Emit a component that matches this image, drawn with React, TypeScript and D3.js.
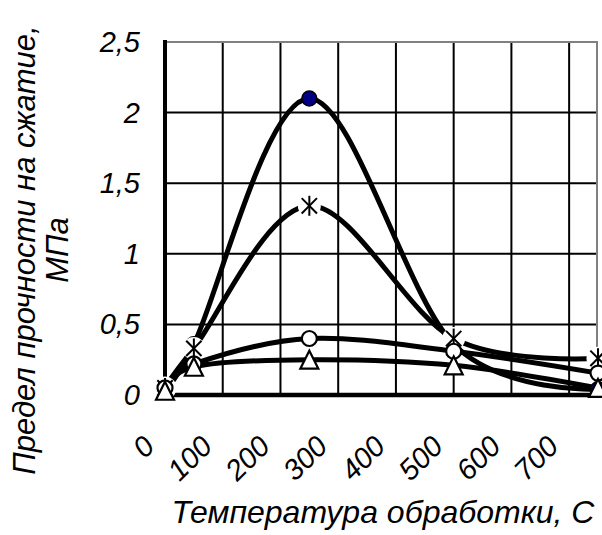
import React from "react";
import * as d3 from "d3";

const temps = [0, 50, 250, 500, 750];
const seriesNavy = [0.05, 0.36, 2.1, 0.36, 0.04];
const seriesStar = [0.05, 0.33, 1.34, 0.4, 0.26];
const seriesCircle = [0.05, 0.22, 0.4, 0.31, 0.155];
const seriesTriangle = [0.03, 0.2, 0.25, 0.21, 0.05];

const xTicks = [0, 100, 200, 300, 400, 500, 600, 700];
const xTickLabels = ["0", "100", "200", "300", "400", "500", "600", "700"];
const yTicks = [0, 0.5, 1, 1.5, 2, 2.5];
const yTickLabels = ["0", "0,5", "1", "1,5", "2", "2,5"];

const xTitle = "Температура обработки, С";
const yTitle1 = "Предел прочности на сжатие,";
const yTitle2 = "МПа";

const FONT = "'Liberation Sans', Arial, sans-serif";

export default function App() {
  const W = 602;
  const H = 535;
  const x = d3.scaleLinear().domain([0, 750]).range([165, 598]);
  const y = d3.scaleLinear().domain([0, 2.5]).range([395, 42]);

  const line = d3
    .line<number>()
    .x((_, i) => x(temps[i]))
    .y((d) => y(d))
    .curve(d3.curveCardinal.tension(0));

  const allSeries = [seriesNavy, seriesStar, seriesCircle, seriesTriangle];

  const star = (cx: number, cy: number, k: string) => {
    const s = 9;
    const d = s * 0.85;
    return (
      <g key={k}>
        <circle cx={cx} cy={cy} r={11.5} fill="#fff" />
        <line x1={cx - d} y1={cy - d} x2={cx + d} y2={cy + d} stroke="#000" strokeWidth={2} />
        <line x1={cx - d} y1={cy + d} x2={cx + d} y2={cy - d} stroke="#000" strokeWidth={2} />
        <line x1={cx} y1={cy - s - 1} x2={cx} y2={cy + s + 1} stroke="#000" strokeWidth={2} />
      </g>
    );
  };

  const tri = (cx: number, cy: number, k: string) => {
    const w = 9;
    const h = 9;
    return (
      <path
        key={k}
        d={`M${cx},${cy - h} L${cx + w},${cy + h} L${cx - w},${cy + h} Z`}
        fill="#fff"
        stroke="#000"
        strokeWidth={2.2}
        strokeLinejoin="miter"
      />
    );
  };

  return (
    <svg
      width={W}
      height={H}
      style={{ position: "absolute", left: 0, top: 0, background: "#fff" }}
      fontFamily={FONT}
      fontStyle="italic"
    >
      <rect x={0} y={0} width={W} height={H} fill="#fff" />
      {yTicks
        .filter((t) => t > 0 && t < 2.5)
        .map((t) => (
          <line key={"hy" + t} x1={x(0)} x2={x(750)} y1={y(t)} y2={y(t)} stroke="#000" strokeWidth={2} />
        ))}
      {xTicks
        .filter((t) => t > 0)
        .map((t) => (
          <line key={"vx" + t} x1={x(t)} x2={x(t)} y1={y(2.5)} y2={y(0)} stroke="#000" strokeWidth={2} />
        ))}
      <line x1={x(0)} x2={x(750)} y1={y(2.5)} y2={y(2.5)} stroke="#808080" strokeWidth={2} />
      <line x1={x(750) - 1} x2={x(750) - 1} y1={y(2.5)} y2={y(0)} stroke="#808080" strokeWidth={2} />
      <line x1={x(0)} x2={x(0)} y1={y(2.5) - 2} y2={y(0) + 2} stroke="#000" strokeWidth={4} />
      <line x1={x(0) - 2} x2={W} y1={y(0)} y2={y(0)} stroke="#000" strokeWidth={4.5} />

      {allSeries.map((s, i) => (
        <path key={"l" + i} d={line(s) || ""} fill="none" stroke="#000" strokeWidth={5} strokeLinejoin="round" />
      ))}

      {seriesNavy.map((v, i) => (
        <circle key={"n" + i} cx={x(temps[i])} cy={y(v)} r={7.5} fill="#000080" stroke="#000" strokeWidth={1.5} />
      ))}
      {seriesStar.map((v, i) => star(x(temps[i]), y(v), "s" + i))}
      {seriesCircle.map((v, i) => (
        <circle key={"c" + i} cx={x(temps[i])} cy={y(v)} r={7.5} fill="#fff" stroke="#000" strokeWidth={2.2} />
      ))}
      {seriesTriangle.map((v, i) => tri(x(temps[i]), y(v), "t" + i))}

      {yTicks.map((t, i) => (
        <text key={"yl" + t} x={140} y={y(t)} textAnchor="end" dominantBaseline="central" fontSize={29}>
          {yTickLabels[i]}
        </text>
      ))}
      {xTicks.map((t, i) => (
        <text
          key={"xl" + t}
          transform={`translate(${x(t) - 16},${441}) rotate(-45)`}
          textAnchor="end"
          dominantBaseline="central"
          fontSize={29}
        >
          {xTickLabels[i]}
        </text>
      ))}

      <text x={383} y={523} textAnchor="middle" fontSize={32}>
        {xTitle}
      </text>
      <text transform={`translate(35,250) rotate(-90)`} textAnchor="middle" fontSize={31}>
        {yTitle1}
      </text>
      <text transform={`translate(68,250) rotate(-90)`} textAnchor="middle" fontSize={31}>
        {yTitle2}
      </text>
    </svg>
  );
}
